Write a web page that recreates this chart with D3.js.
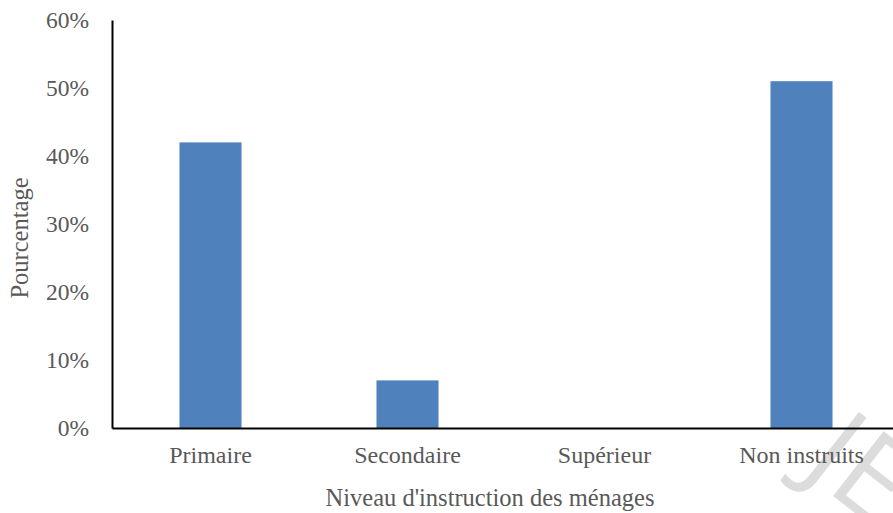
<!DOCTYPE html>
<html>
<head>
<meta charset="utf-8">
<script src="https://cdn.jsdelivr.net/npm/d3@7"></script>
<style>
  html, body { margin: 0; padding: 0; background: #fff; }
  svg { display: block; }
  text { font-family: "Liberation Serif", "Times New Roman", serif; fill: #595959; }
</style>
</head>
<body>
<svg id="chart" width="893" height="513"></svg>
<script>
// Share of households by education level of the household head (%)
const categories = ["Primaire", "Secondaire", "Supérieur", "Non instruits"];
const values = [42, 7, 0, 51];
const yTicks = [0, 10, 20, 30, 40, 50, 60];

const svg = d3.select("#chart");
const plot = { left: 112, right: 900, top: 20, bottom: 428 };

const x = d3.scaleBand()
  .domain(categories)
  .range([plot.left, plot.right])
  .paddingInner(0.685)
  .paddingOuter(0.3425);

const y = d3.scaleLinear()
  .domain([0, 60])
  .range([plot.bottom, plot.top]);

// Faint watermark in the lower-right corner
svg.append("text")
  .attr("transform", "translate(800,470) rotate(38)")
  .style("font-family", "'Open Sans', sans-serif")
  .style("font-weight", 400)
  .style("font-size", "115px")
  .style("fill", "#dcdcdc")
  .text("JE");

// Bars
svg.append("g")
  .selectAll("rect")
  .data(categories.map((c, i) => ({ c, v: values[i] })))
  .join("rect")
  .attr("x", d => x(d.c))
  .attr("y", d => y(d.v))
  .attr("width", x.bandwidth())
  .attr("height", d => y(0) - y(d.v))
  .attr("fill", "#4f81bd");

// Y axis
const yAxis = svg.append("g")
  .attr("transform", `translate(${plot.left},0)`)
  .call(d3.axisLeft(y).tickValues(yTicks).tickSize(0).tickPadding(23)
    .tickFormat(d => d + "%"));
yAxis.select(".domain").attr("stroke", "#000").attr("stroke-width", 2);
yAxis.selectAll(".tick text")
  .style("font-size", "23.5px")
  .attr("dy", "0.32em")
  .style("fill", "#595959");

// X axis
const xAxis = svg.append("g")
  .attr("transform", `translate(0,${plot.bottom})`)
  .call(d3.axisBottom(x).tickSize(0).tickPadding(18));
xAxis.select(".domain").attr("stroke", "#000").attr("stroke-width", 2);
xAxis.selectAll(".tick text")
  .style("font-size", "24px")
  .style("fill", "#595959");

// Axis titles
svg.append("text")
  .attr("x", 490)
  .attr("y", 506)
  .attr("text-anchor", "middle")
  .style("font-size", "24.5px")
  .text("Niveau d'instruction des ménages");

svg.append("text")
  .attr("transform", "translate(28,238) rotate(-90)")
  .attr("text-anchor", "middle")
  .style("font-size", "24.5px")
  .text("Pourcentage");
</script>
</body>
</html>
